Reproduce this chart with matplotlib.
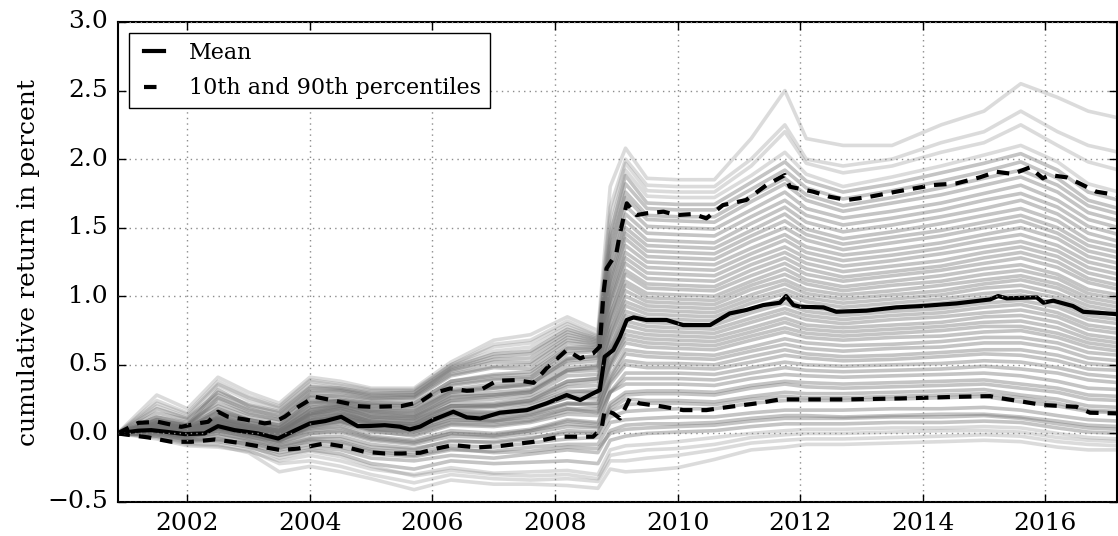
import matplotlib
matplotlib.use('Agg')
import matplotlib.pyplot as plt

# knot dates (decimal years) for the simulated paths
knots = [2000.86, 2001.5, 2002.0, 2002.5, 2003.0, 2003.5, 2004.0, 2004.5, 2005.0, 2005.7,
         2006.3, 2007.0, 2007.6, 2008.2, 2008.7, 2008.9, 2009.15, 2009.5, 2010.0, 2010.6,
         2011.2, 2011.75, 2012.1, 2012.7, 2013.5, 2014.3, 2015.0, 2015.6, 2016.2, 2016.7, 2017.2]

# grey paths, lowest final level first
low_paths = [
    [0, -0.03, -0.08, -0.09, -0.14, -0.28, -0.24, -0.28, -0.33, -0.41, -0.34, -0.37, -0.37, -0.38, -0.40, -0.26, -0.28, -0.27, -0.25, -0.19, -0.12, -0.10, -0.08, -0.08, -0.07, -0.06, -0.05, -0.06, -0.10, -0.12, -0.12],
    [0, -0.02, -0.07, -0.08, -0.12, -0.22, -0.20, -0.24, -0.30, -0.36, -0.30, -0.33, -0.34, -0.33, -0.35, -0.20, -0.20, -0.18, -0.16, -0.12, -0.07, -0.05, -0.04, -0.04, -0.03, -0.02, -0.01, -0.02, -0.06, -0.08, -0.09],
    [0, -0.01, -0.05, -0.03, -0.09, -0.18, -0.13, -0.17, -0.24, -0.31, -0.27, -0.30, -0.31, -0.30, -0.33, -0.16, -0.14, -0.12, -0.11, -0.08, -0.03, -0.01, 0.00, 0.00, 0.01, 0.02, 0.02, 0.01, -0.03, -0.05, -0.06],
    [0, -0.04, -0.09, -0.10, -0.13, -0.20, -0.16, -0.20, -0.26, -0.30, -0.25, -0.29, -0.28, -0.27, -0.30, -0.12, -0.09, -0.08, -0.06, -0.03, 0.00, 0.02, 0.03, 0.03, 0.04, 0.04, 0.05, 0.04, 0.00, -0.03, -0.04],
    [0, 0.00, -0.05, -0.06, -0.10, -0.16, -0.12, -0.15, -0.22, -0.26, -0.20, -0.22, -0.21, -0.20, -0.22, -0.05, -0.02, 0.00, 0.01, 0.02, 0.05, 0.07, 0.07, 0.07, 0.08, 0.08, 0.09, 0.08, 0.04, 0.01, 0.00],
    [0, 0.01, -0.03, -0.02, -0.06, -0.11, -0.05, -0.07, -0.13, -0.16, -0.11, -0.14, -0.13, -0.10, -0.11, 0.00, 0.03, 0.04, 0.05, 0.06, 0.09, 0.11, 0.11, 0.11, 0.12, 0.12, 0.13, 0.11, 0.07, 0.04, 0.03],
    [0, -0.02, -0.06, -0.04, -0.08, -0.14, -0.10, -0.12, -0.18, -0.20, -0.16, -0.18, -0.15, -0.12, -0.14, 0.02, 0.06, 0.07, 0.07, 0.08, 0.11, 0.13, 0.13, 0.12, 0.13, 0.14, 0.14, 0.12, 0.09, 0.06, 0.05],
    [0, 0.01, -0.04, -0.05, -0.07, -0.12, -0.08, -0.10, -0.15, -0.17, -0.12, -0.13, -0.10, -0.08, -0.08, 0.08, 0.10, 0.11, 0.12, 0.12, 0.15, 0.17, 0.17, 0.17, 0.18, 0.18, 0.19, 0.17, 0.13, 0.10, 0.09],
    [0, 0.02, -0.02, 0.00, -0.05, -0.10, -0.06, -0.06, -0.12, -0.14, -0.09, -0.10, -0.07, -0.04, -0.03, 0.12, 0.16, 0.17, 0.18, 0.18, 0.22, 0.24, 0.24, 0.24, 0.25, 0.26, 0.27, 0.23, 0.20, 0.16, 0.15],
    [0, 0.02, 0.01, 0.05, 0.00, -0.04, 0.02, 0.04, -0.03, -0.06, 0.00, -0.02, 0.02, 0.07, 0.05, 0.16, 0.21, 0.22, 0.22, 0.21, 0.25, 0.27, 0.26, 0.26, 0.27, 0.28, 0.29, 0.26, 0.22, 0.17, 0.16],
    [0, 0.03, -0.01, 0.02, -0.02, -0.08, -0.03, -0.02, -0.08, -0.11, -0.06, -0.06, -0.03, 0.00, 0.00, 0.18, 0.25, 0.24, 0.24, 0.23, 0.27, 0.30, 0.29, 0.29, 0.30, 0.31, 0.32, 0.28, 0.25, 0.20, 0.19],
    [0, -0.01, -0.04, 0.00, -0.04, -0.09, -0.04, -0.04, -0.10, -0.12, -0.05, -0.07, -0.04, 0.02, 0.01, 0.20, 0.28, 0.29, 0.29, 0.28, 0.33, 0.36, 0.34, 0.33, 0.34, 0.35, 0.36, 0.33, 0.30, 0.25, 0.24],
    [0, 0.04, 0.00, 0.04, 0.00, -0.06, 0.00, 0.01, -0.05, -0.08, -0.02, -0.03, 0.00, 0.05, 0.04, 0.22, 0.30, 0.31, 0.31, 0.30, 0.35, 0.38, 0.37, 0.36, 0.37, 0.38, 0.39, 0.36, 0.33, 0.28, 0.27],
    [0, 0.03, 0.02, 0.06, 0.03, 0.00, 0.06, 0.09, 0.03, 0.02, 0.10, 0.09, 0.12, 0.18, 0.15, 0.30, 0.36, 0.36, 0.36, 0.35, 0.40, 0.43, 0.42, 0.41, 0.42, 0.43, 0.44, 0.42, 0.38, 0.33, 0.32],
    [0, 0.02, -0.03, 0.03, -0.03, -0.05, 0.03, 0.05, -0.02, -0.05, 0.02, 0.00, 0.03, 0.10, 0.08, 0.30, 0.40, 0.40, 0.40, 0.39, 0.44, 0.48, 0.46, 0.45, 0.46, 0.47, 0.49, 0.47, 0.44, 0.39, 0.37],
    [0, 0.00, -0.03, 0.02, -0.02, -0.07, 0.00, 0.02, -0.04, -0.07, 0.00, -0.01, 0.02, 0.09, 0.07, 0.30, 0.44, 0.44, 0.44, 0.43, 0.48, 0.52, 0.50, 0.49, 0.50, 0.51, 0.53, 0.52, 0.48, 0.43, 0.41],
]
mid_paths = [
    [0, 0.05, 0.02, 0.06, 0.02, -0.04, 0.05, 0.08, 0.02, -0.02, 0.06, 0.05, 0.08, 0.14, 0.13, 0.36, 0.50, 0.48, 0.48, 0.47, 0.52, 0.57, 0.55, 0.53, 0.54, 0.56, 0.58, 0.57, 0.53, 0.47, 0.46],
    [0, 0.04, 0.01, 0.07, 0.04, 0.00, 0.09, 0.12, 0.07, 0.05, 0.13, 0.12, 0.15, 0.22, 0.20, 0.38, 0.53, 0.51, 0.51, 0.50, 0.56, 0.61, 0.58, 0.56, 0.57, 0.59, 0.61, 0.61, 0.57, 0.51, 0.49],
    [0, 0.01, -0.02, 0.04, 0.01, -0.03, 0.08, 0.10, 0.04, 0.01, 0.08, 0.08, 0.10, 0.18, 0.18, 0.40, 0.58, 0.56, 0.55, 0.54, 0.60, 0.65, 0.62, 0.60, 0.62, 0.63, 0.66, 0.66, 0.62, 0.55, 0.53],
    [0, 0.02, -0.01, 0.03, -0.01, -0.05, 0.04, 0.07, 0.01, -0.01, 0.07, 0.06, 0.09, 0.16, 0.16, 0.42, 0.61, 0.59, 0.58, 0.57, 0.63, 0.69, 0.66, 0.64, 0.65, 0.67, 0.70, 0.70, 0.66, 0.59, 0.57],
    [0, 0.03, 0.00, 0.07, 0.03, -0.02, 0.06, 0.13, 0.06, 0.03, 0.12, 0.10, 0.14, 0.22, 0.22, 0.48, 0.66, 0.63, 0.62, 0.61, 0.68, 0.74, 0.70, 0.68, 0.70, 0.71, 0.74, 0.75, 0.70, 0.63, 0.60],
    [0, 0.05, 0.03, 0.09, 0.05, 0.01, 0.11, 0.14, 0.09, 0.07, 0.16, 0.15, 0.18, 0.26, 0.25, 0.50, 0.69, 0.66, 0.65, 0.64, 0.71, 0.77, 0.73, 0.71, 0.73, 0.75, 0.78, 0.78, 0.73, 0.66, 0.63],
    [0, 0.06, 0.03, 0.08, 0.02, -0.04, 0.10, 0.12, 0.07, 0.05, 0.15, 0.13, 0.17, 0.26, 0.27, 0.52, 0.72, 0.69, 0.68, 0.67, 0.74, 0.81, 0.76, 0.74, 0.76, 0.78, 0.81, 0.82, 0.77, 0.69, 0.66],
    [0, 0.01, -0.02, 0.04, 0.00, -0.05, 0.05, 0.09, 0.03, 0.01, 0.10, 0.09, 0.13, 0.21, 0.22, 0.52, 0.75, 0.72, 0.71, 0.70, 0.77, 0.84, 0.79, 0.77, 0.79, 0.81, 0.85, 0.86, 0.81, 0.72, 0.69],
    [0, 0.02, 0.01, 0.05, 0.00, -0.06, 0.07, 0.15, 0.09, 0.06, 0.17, 0.16, 0.20, 0.30, 0.32, 0.58, 0.79, 0.75, 0.74, 0.73, 0.81, 0.88, 0.83, 0.80, 0.83, 0.85, 0.88, 0.90, 0.85, 0.76, 0.73],
    [0, 0.06, 0.04, 0.11, 0.06, 0.02, 0.14, 0.18, 0.12, 0.10, 0.20, 0.19, 0.22, 0.31, 0.30, 0.60, 0.82, 0.78, 0.77, 0.76, 0.84, 0.91, 0.86, 0.83, 0.86, 0.88, 0.92, 0.94, 0.88, 0.79, 0.76],
    [0, 0.04, 0.00, 0.06, 0.01, -0.03, 0.11, 0.17, 0.08, 0.07, 0.20, 0.20, 0.23, 0.34, 0.35, 0.62, 0.86, 0.81, 0.80, 0.79, 0.88, 0.95, 0.89, 0.86, 0.89, 0.91, 0.95, 0.97, 0.92, 0.83, 0.80],
    [0, 0.03, 0.00, 0.05, 0.01, -0.03, 0.08, 0.12, 0.06, 0.04, 0.14, 0.14, 0.18, 0.28, 0.30, 0.62, 0.89, 0.84, 0.83, 0.82, 0.91, 0.98, 0.92, 0.89, 0.92, 0.95, 0.99, 1.01, 0.95, 0.86, 0.83],
    [0, 0.07, 0.03, 0.10, 0.04, -0.01, 0.13, 0.15, 0.10, 0.09, 0.22, 0.22, 0.26, 0.38, 0.40, 0.68, 0.93, 0.87, 0.86, 0.85, 0.95, 1.02, 0.96, 0.92, 0.95, 0.98, 1.02, 1.04, 0.99, 0.90, 0.86],
    [0, 0.05, 0.02, 0.09, 0.04, 0.01, 0.13, 0.17, 0.11, 0.09, 0.20, 0.21, 0.24, 0.36, 0.38, 0.70, 0.96, 0.90, 0.89, 0.88, 0.98, 1.05, 0.99, 0.95, 0.98, 1.01, 1.06, 1.08, 1.02, 0.93, 0.89],
    [0, 0.03, -0.01, 0.08, 0.02, 0.00, 0.15, 0.19, 0.12, 0.11, 0.24, 0.25, 0.28, 0.42, 0.43, 0.74, 1.00, 0.93, 0.92, 0.91, 1.01, 1.09, 1.02, 0.98, 1.01, 1.04, 1.09, 1.12, 1.06, 0.96, 0.92],
    [0, 0.02, -0.01, 0.06, 0.02, -0.02, 0.10, 0.14, 0.08, 0.07, 0.18, 0.20, 0.24, 0.38, 0.40, 0.74, 1.04, 0.96, 0.95, 0.94, 1.05, 1.12, 1.05, 1.01, 1.04, 1.08, 1.12, 1.15, 1.09, 0.99, 0.95],
    [0, 0.05, 0.02, 0.12, 0.05, 0.01, 0.14, 0.20, 0.14, 0.12, 0.26, 0.28, 0.30, 0.45, 0.46, 0.80, 1.08, 0.99, 0.98, 0.97, 1.08, 1.16, 1.09, 1.04, 1.08, 1.11, 1.16, 1.19, 1.13, 1.02, 0.98],
    [0, 0.06, 0.03, 0.11, 0.05, 0.02, 0.16, 0.20, 0.15, 0.13, 0.27, 0.28, 0.31, 0.46, 0.48, 0.82, 1.11, 1.02, 1.01, 1.00, 1.11, 1.20, 1.12, 1.07, 1.11, 1.15, 1.20, 1.23, 1.16, 1.05, 1.01],
    [0, 0.08, 0.04, 0.10, 0.06, 0.02, 0.17, 0.22, 0.16, 0.14, 0.28, 0.30, 0.32, 0.48, 0.50, 0.86, 1.16, 1.06, 1.05, 1.04, 1.15, 1.24, 1.16, 1.11, 1.15, 1.19, 1.24, 1.28, 1.21, 1.10, 1.05],
    [0, 0.04, 0.01, 0.09, 0.04, 0.00, 0.14, 0.18, 0.13, 0.12, 0.24, 0.27, 0.30, 0.46, 0.49, 0.86, 1.19, 1.09, 1.08, 1.07, 1.19, 1.28, 1.20, 1.14, 1.18, 1.22, 1.28, 1.32, 1.25, 1.13, 1.08],
]
high_paths = [
    [0, 0.04, 0.01, 0.13, 0.07, 0.03, 0.19, 0.21, 0.17, 0.16, 0.30, 0.33, 0.35, 0.51, 0.53, 0.92, 1.24, 1.13, 1.12, 1.11, 1.23, 1.32, 1.24, 1.18, 1.22, 1.26, 1.32, 1.36, 1.29, 1.17, 1.12],
    [0, 0.07, 0.04, 0.14, 0.08, 0.04, 0.19, 0.22, 0.18, 0.17, 0.31, 0.34, 0.36, 0.53, 0.55, 0.95, 1.28, 1.17, 1.16, 1.15, 1.27, 1.36, 1.28, 1.22, 1.26, 1.31, 1.36, 1.40, 1.33, 1.21, 1.16],
    [0, 0.10, 0.05, 0.15, 0.08, 0.04, 0.21, 0.24, 0.19, 0.18, 0.32, 0.36, 0.38, 0.55, 0.56, 0.98, 1.32, 1.21, 1.20, 1.19, 1.31, 1.41, 1.32, 1.26, 1.30, 1.35, 1.41, 1.45, 1.37, 1.25, 1.20],
    [0, 0.05, 0.02, 0.12, 0.06, 0.02, 0.17, 0.20, 0.16, 0.15, 0.30, 0.33, 0.36, 0.54, 0.57, 1.00, 1.37, 1.25, 1.24, 1.23, 1.35, 1.45, 1.36, 1.30, 1.34, 1.39, 1.45, 1.50, 1.42, 1.29, 1.24],
    [0, 0.06, 0.03, 0.18, 0.10, 0.05, 0.23, 0.23, 0.20, 0.20, 0.35, 0.39, 0.40, 0.58, 0.60, 1.05, 1.42, 1.29, 1.28, 1.27, 1.40, 1.50, 1.41, 1.34, 1.39, 1.44, 1.50, 1.55, 1.46, 1.33, 1.28],
    [0, 0.09, 0.06, 0.17, 0.10, 0.06, 0.22, 0.24, 0.21, 0.20, 0.36, 0.40, 0.41, 0.60, 0.61, 1.08, 1.46, 1.33, 1.32, 1.31, 1.44, 1.55, 1.45, 1.38, 1.43, 1.48, 1.54, 1.59, 1.50, 1.37, 1.32],
    [0, 0.12, 0.07, 0.20, 0.12, 0.08, 0.26, 0.25, 0.22, 0.22, 0.38, 0.42, 0.43, 0.62, 0.62, 1.12, 1.50, 1.37, 1.36, 1.35, 1.48, 1.60, 1.49, 1.42, 1.47, 1.53, 1.59, 1.64, 1.55, 1.41, 1.36],
    [0, 0.07, 0.04, 0.16, 0.10, 0.06, 0.24, 0.24, 0.22, 0.22, 0.38, 0.43, 0.45, 0.63, 0.63, 1.15, 1.55, 1.41, 1.40, 1.39, 1.53, 1.65, 1.54, 1.47, 1.52, 1.58, 1.64, 1.70, 1.60, 1.46, 1.40],
    [0, 0.08, 0.05, 0.25, 0.15, 0.10, 0.28, 0.27, 0.24, 0.25, 0.42, 0.48, 0.47, 0.66, 0.64, 1.20, 1.60, 1.46, 1.45, 1.44, 1.58, 1.70, 1.59, 1.52, 1.57, 1.63, 1.70, 1.75, 1.65, 1.51, 1.45],
    [0, 0.12, 0.08, 0.22, 0.14, 0.10, 0.27, 0.28, 0.25, 0.26, 0.43, 0.49, 0.50, 0.68, 0.65, 1.25, 1.66, 1.51, 1.50, 1.49, 1.63, 1.76, 1.64, 1.57, 1.62, 1.68, 1.75, 1.81, 1.70, 1.56, 1.50],
    [0, 0.15, 0.10, 0.28, 0.18, 0.12, 0.30, 0.30, 0.26, 0.27, 0.45, 0.52, 0.52, 0.70, 0.66, 1.30, 1.72, 1.56, 1.55, 1.54, 1.69, 1.82, 1.70, 1.62, 1.68, 1.74, 1.81, 1.87, 1.76, 1.61, 1.55],
    [0, 0.09, 0.06, 0.26, 0.17, 0.13, 0.31, 0.31, 0.27, 0.28, 0.46, 0.54, 0.55, 0.72, 0.67, 1.35, 1.76, 1.59, 1.58, 1.58, 1.73, 1.86, 1.74, 1.66, 1.72, 1.79, 1.86, 1.92, 1.81, 1.66, 1.60],
    [0, 0.10, 0.06, 0.32, 0.20, 0.15, 0.33, 0.32, 0.28, 0.28, 0.47, 0.56, 0.58, 0.74, 0.68, 1.40, 1.82, 1.64, 1.63, 1.63, 1.78, 1.92, 1.79, 1.71, 1.77, 1.84, 1.91, 1.98, 1.86, 1.70, 1.64],
    [0, 0.18, 0.11, 0.30, 0.21, 0.16, 0.34, 0.33, 0.29, 0.30, 0.48, 0.58, 0.60, 0.76, 0.69, 1.45, 1.88, 1.68, 1.67, 1.67, 1.83, 1.98, 1.84, 1.76, 1.82, 1.90, 1.97, 2.04, 1.92, 1.76, 1.70],
    [0, 0.20, 0.12, 0.35, 0.24, 0.18, 0.36, 0.33, 0.30, 0.30, 0.49, 0.60, 0.63, 0.78, 0.70, 1.50, 1.92, 1.73, 1.72, 1.72, 1.88, 2.05, 1.89, 1.80, 1.87, 1.95, 2.03, 2.10, 1.98, 1.82, 1.76],
    [0, 0.22, 0.14, 0.36, 0.26, 0.19, 0.38, 0.35, 0.31, 0.31, 0.50, 0.63, 0.66, 0.80, 0.71, 1.58, 1.97, 1.77, 1.76, 1.76, 1.95, 2.20, 1.97, 1.90, 1.95, 2.05, 2.12, 2.25, 2.10, 1.98, 1.92],
    [0, 0.24, 0.15, 0.38, 0.27, 0.20, 0.39, 0.36, 0.32, 0.32, 0.50, 0.65, 0.68, 0.82, 0.72, 1.65, 2.00, 1.81, 1.80, 1.80, 2.00, 2.25, 2.00, 1.95, 2.00, 2.12, 2.20, 2.35, 2.20, 2.10, 2.05],
    [0, 0.28, 0.18, 0.41, 0.30, 0.22, 0.41, 0.38, 0.33, 0.33, 0.52, 0.68, 0.72, 0.85, 0.75, 1.80, 2.08, 1.86, 1.85, 1.85, 2.15, 2.50, 2.15, 2.10, 2.10, 2.25, 2.35, 2.55, 2.45, 2.35, 2.30],
]

# mean path
mean_t = [2000.86, 2001.2, 2001.41, 2001.69, 2001.96, 2002.28, 2002.5, 2002.77, 2003.15, 2003.48,
          2003.7, 2004.0, 2004.25, 2004.51, 2004.78, 2005.0, 2005.22, 2005.47, 2005.63, 2005.8,
          2006.0, 2006.34, 2006.56, 2006.78, 2007.1, 2007.54, 2007.86, 2008.19, 2008.41, 2008.62,
          2008.73, 2008.81, 2008.95, 2009.06, 2009.17, 2009.28, 2009.49, 2009.82, 2010.09, 2010.53,
          2010.85, 2011.12, 2011.4, 2011.67, 2011.77, 2011.89, 2012.0, 2012.38, 2012.59, 2013.08,
          2013.57, 2013.99, 2014.55, 2015.1, 2015.23, 2015.37, 2015.86, 2015.97, 2016.13, 2016.45,
          2016.62, 2017.17]
mean_v = [0.0, 0.02, 0.024, 0.01, -0.005, 0.0, 0.053, 0.024, 0.0, -0.037,
          0.01, 0.073, 0.09, 0.121, 0.053, 0.055, 0.06, 0.049, 0.029, 0.05,
          0.097, 0.158, 0.117, 0.109, 0.151, 0.17, 0.219, 0.28, 0.243, 0.292,
          0.316, 0.559, 0.608, 0.705, 0.827, 0.846, 0.827, 0.827, 0.79, 0.79,
          0.875, 0.90, 0.936, 0.953, 1.002, 0.936, 0.924, 0.919, 0.887, 0.895,
          0.919, 0.929, 0.948, 0.977, 1.002, 0.985, 0.992, 0.953, 0.968, 0.929,
          0.887, 0.87]

# 90th percentile
p90_t = [2000.86, 2001.2, 2001.52, 2001.9, 2002.17, 2002.34, 2002.5, 2002.66, 2002.94, 2003.26,
         2003.43, 2003.59, 2003.81, 2004.08, 2004.35, 2004.62, 2004.78, 2005.0, 2005.49, 2005.8,
         2006.01, 2006.29, 2006.56, 2006.78, 2007.05, 2007.37, 2007.65, 2007.86, 2008.19, 2008.41,
         2008.62, 2008.73, 2008.79, 2008.84, 2009.0, 2009.06, 2009.17, 2009.33, 2009.49, 2009.77,
         2009.98, 2010.26, 2010.47, 2010.74, 2011.12, 2011.45, 2011.75, 2011.83, 2012.21, 2012.48,
         2012.76, 2013.14, 2013.57, 2014.17, 2014.55, 2014.93, 2015.2, 2015.47, 2015.75, 2015.96,
         2016.07, 2016.35, 2016.56, 2016.83, 2017.17]
p90_v = [0.0, 0.077, 0.085, 0.048, 0.073, 0.085, 0.158, 0.122, 0.102, 0.073,
         0.085, 0.122, 0.194, 0.267, 0.243, 0.218, 0.199, 0.194, 0.199, 0.23,
         0.292, 0.328, 0.311, 0.316, 0.384, 0.389, 0.369, 0.474, 0.608, 0.547,
         0.583, 0.632, 1.021, 1.203, 1.313, 1.459, 1.678, 1.592, 1.605, 1.617,
         1.592, 1.6, 1.568, 1.665, 1.702, 1.811, 1.884, 1.799, 1.763, 1.726,
         1.702, 1.726, 1.763, 1.811, 1.823, 1.867, 1.908, 1.892, 1.94, 1.86,
         1.884, 1.867, 1.823, 1.763, 1.738]

# 10th percentile
p10_t = [2000.86, 2001.36, 2001.74, 2002.07, 2002.45, 2002.83, 2003.21, 2003.53, 2003.81, 2004.24,
         2004.57, 2004.89, 2005.22, 2005.5, 2005.8, 2006.07, 2006.34, 2006.72, 2007.1, 2007.65,
         2008.08, 2008.62, 2008.76, 2008.81, 2008.95, 2009.06, 2009.22, 2009.38, 2009.71, 2010.09,
         2010.47, 2010.85, 2011.29, 2011.67, 2012.1, 2012.76, 2013.63, 2014.55, 2015.1, 2015.2,
         2015.64, 2015.96, 2016.51, 2016.73, 2017.17]
p10_v = [0.0, -0.029, -0.061, -0.061, -0.044, -0.068, -0.097, -0.122, -0.11, -0.073,
         -0.097, -0.134, -0.146, -0.146, -0.141, -0.11, -0.085, -0.102, -0.092, -0.061,
         -0.024, -0.024, 0.036, 0.17, 0.146, 0.109, 0.255, 0.219, 0.199, 0.17,
         0.17, 0.194, 0.219, 0.248, 0.248, 0.248, 0.255, 0.267, 0.272, 0.262,
         0.231, 0.207, 0.194, 0.151, 0.146]

year_ticks = [2002, 2004, 2006, 2008, 2010, 2012, 2014, 2016]

plt.style.use('classic')
plt.rcParams['font.family'] = ['DejaVu Serif']
plt.rcParams['savefig.facecolor'] = 'white'
plt.rcParams['figure.facecolor'] = 'white'

fig = plt.figure(figsize=(11.18, 5.36), dpi=100)
ax = fig.add_axes([117.5 / 1118, 34 / 536, 999.5 / 1118, 480 / 536])

# simulated paths: the few outermost ones are fainter
all_paths = low_paths + mid_paths + high_paths
n = len(all_paths)
for i, p in enumerate(all_paths):
    outer = i < 4 or i >= n - 4
    ax.plot(knots, p, color='0.45', alpha=0.25 if outer else 0.42, linewidth=2.6)

ax.plot(mean_t, mean_v, color='black', linewidth=3, label='Mean')
ax.plot(p90_t, p90_v, color='black', linewidth=3, dashes=(9, 6.5),
        label='10th and 90th percentiles')
ax.plot(p10_t, p10_v, color='black', linewidth=3, dashes=(9, 6.5))

ax.set_xlim(2000.86, 2017.17)
ax.set_ylim(-0.5, 3.0)
ax.set_xticks(year_ticks)
ax.set_xticklabels([str(y) for y in year_ticks])
ax.set_ylabel('cumulative return in percent', fontsize=18)
ax.tick_params(labelsize=18, length=6, width=1, direction='in', pad=7)
for s in ax.spines.values():
    s.set_linewidth(1.5)
ax.grid(True, color='0.55', linestyle=':', linewidth=1)
ax.legend(loc='upper left', fontsize=16, handlelength=1.5, labelspacing=0.6)

plt.savefig('out.png', dpi=100)
